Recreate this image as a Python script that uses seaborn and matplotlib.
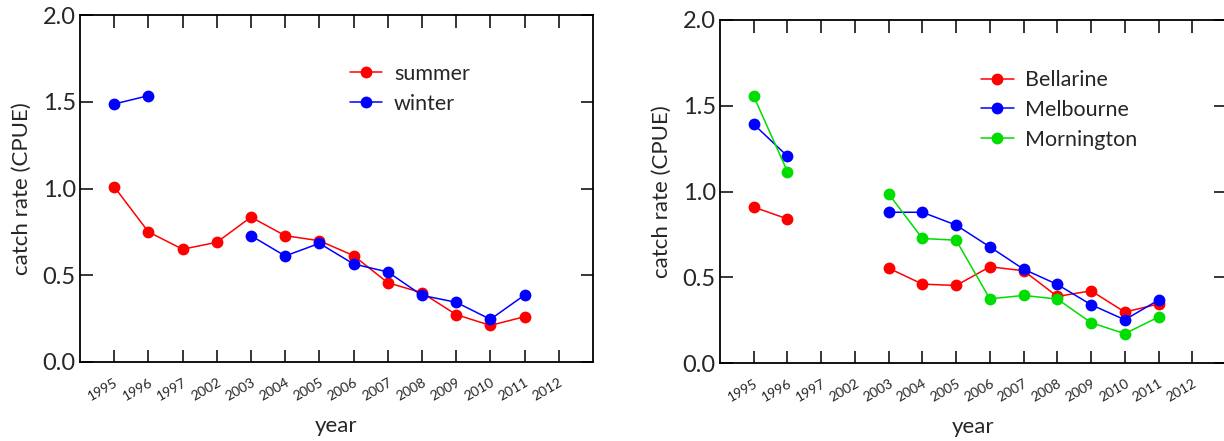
import numpy as np
import pandas as pd
import matplotlib
matplotlib.use("Agg")
import matplotlib.pyplot as plt
import seaborn as sns

years = ["1995", "1996", "1997", "2002", "2003", "2004", "2005", "2006",
         "2007", "2008", "2009", "2010", "2011", "2012"]

summer = [1.01, 0.75, 0.65, 0.69, 0.835, 0.728, 0.699, 0.613, 0.457, 0.399, 0.273, 0.211, 0.261, np.nan]
winter = [1.487, 1.535, np.nan, np.nan, 0.728, 0.611, 0.684, 0.565, 0.519, 0.384, 0.344, 0.246, 0.386, np.nan]

bellarine = [0.909, 0.840, np.nan, np.nan, 0.553, 0.460, 0.452, 0.561, 0.538, 0.388, 0.421, 0.297, 0.344, np.nan]
melbourne = [1.392, 1.206, np.nan, np.nan, 0.879, 0.879, 0.804, 0.677, 0.547, 0.458, 0.340, 0.252, 0.367, np.nan]
mornington = [1.555, 1.116, np.nan, np.nan, 0.986, 0.726, 0.716, 0.374, 0.394, 0.373, 0.235, 0.171, 0.268, np.nan]

y_ticks = [0.0, 0.5, 1.0, 1.5, 2.0]


def to_long(series_dict):
    rows = []
    for name, vals in series_dict.items():
        seg = 0
        prev_nan = True
        for i, v in enumerate(vals):
            if np.isnan(v):
                prev_nan = True
                continue
            if prev_nan:
                seg += 1
                prev_nan = False
            rows.append({"pos": i, "val": v, "series": name, "seg": f"{name}_{seg}"})
    return pd.DataFrame(rows)


sns.set_theme(style="white")
plt.rcParams["font.family"] = ["Lato", "DejaVu Sans"]

fig = plt.figure(figsize=(12.24, 4.41), dpi=100)
ax1 = fig.add_axes([80 / 1224, 1 - 362 / 441, 513 / 1224, 347 / 441])
ax2 = fig.add_axes([720 / 1224, 1 - 363 / 441, 506 / 1224, 343 / 441])

df1 = to_long({"summer": summer, "winter": winter})
df2 = to_long({"Bellarine": bellarine, "Melbourne": melbourne, "Mornington": mornington})

pal1 = {"summer": "#ff0000", "winter": "#0000ff"}
pal2 = {"Bellarine": "#ff0000", "Melbourne": "#0000ff", "Mornington": "#00dd00"}

for ax, df, pal, hue_order, leg_xy in [
    (ax1, df1, pal1, ["summer", "winter"], (0.505, 0.89)),
    (ax2, df2, pal2, ["Bellarine", "Melbourne", "Mornington"], (0.495, 0.885)),
]:
    sns.lineplot(data=df, x="pos", y="val", hue="series", hue_order=hue_order,
                 units="seg", estimator=None, palette=pal, marker="o",
                 markersize=8.5, markeredgewidth=0, linewidth=1.1, ax=ax,
                 sort=False)
    ax.set_xlim(-1, 14)
    ax.set_ylim(0, 2.0)
    ax.set_xticks(range(len(years)))
    ax.set_xticklabels(years, rotation=30, fontsize=10, ha="right",
                       rotation_mode="anchor")
    ax.set_yticks(y_ticks)
    ax.set_yticklabels([f"{t:.1f}" for t in y_ticks], fontsize=17)
    ax.tick_params(axis="both", which="both", direction="in", length=9,
                   width=1.1, color="black", top=True, right=True,
                   bottom=True, left=True)
    ax.tick_params(axis="y", pad=3)
    ax.tick_params(axis="x", pad=10)
    for sp in ax.spines.values():
        sp.set_visible(True)
        sp.set_color("black")
        sp.set_linewidth(1.3)
    ax.set_xlabel("year", fontsize=16, labelpad=10)
    ax.set_ylabel("catch rate (CPUE)", fontsize=16, labelpad=8)
    ax.grid(False)
    ax.set_facecolor("white")
    handles, labels = ax.get_legend_handles_labels()
    ax.legend(handles=handles, labels=labels, loc="upper left",
              bbox_to_anchor=leg_xy, frameon=False, fontsize=15.5,
              handlelength=1.5, handletextpad=0.55, borderpad=0,
              labelspacing=0.45)

fig.savefig("out.png", dpi=100, facecolor="white")
